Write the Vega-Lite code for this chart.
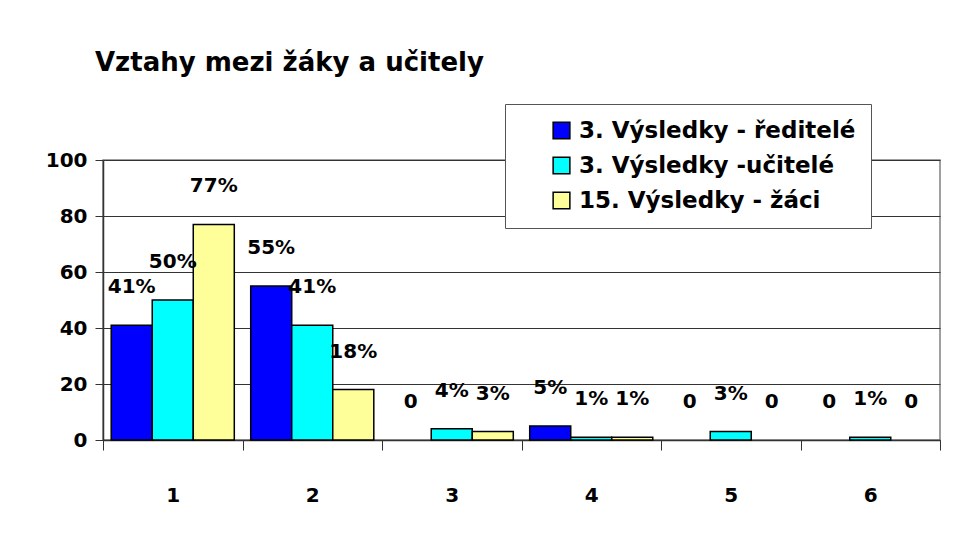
{
  "$schema": "https://vega.github.io/schema/vega-lite/v6.json",
  "width": 837,
  "height": 280,
  "autosize": {"type": "none"},
  "padding": {"left": 103, "top": 160, "right": 27, "bottom": 109},
  "background": "white",
  "title": {
    "text": "Vztahy mezi žáky a učitely",
    "anchor": "start",
    "frame": "group",
    "dx": -8,
    "offset": 15,
    "baseline": "middle",
    "fontSize": 26,
    "font": "DejaVu Sans",
    "fontWeight": "bold",
    "color": "black"
  },
  "config": {
    "font": "DejaVu Sans",
    "view": {"stroke": "#808080", "strokeWidth": 1.5}
  },
  "data": {
    "values": [
      {"k": "1", "s": "3. Výsledky - ředitelé", "v": 41, "lbl": "41%"},
      {"k": "1", "s": "3. Výsledky -učitelé", "v": 50, "lbl": "50%"},
      {"k": "1", "s": "15. Výsledky - žáci", "v": 77, "lbl": "77%"},
      {"k": "2", "s": "3. Výsledky - ředitelé", "v": 55, "lbl": "55%"},
      {"k": "2", "s": "3. Výsledky -učitelé", "v": 41, "lbl": "41%"},
      {"k": "2", "s": "15. Výsledky - žáci", "v": 18, "lbl": "18%"},
      {"k": "3", "s": "3. Výsledky - ředitelé", "v": 0, "lbl": "0"},
      {"k": "3", "s": "3. Výsledky -učitelé", "v": 4, "lbl": "4%"},
      {"k": "3", "s": "15. Výsledky - žáci", "v": 3, "lbl": "3%"},
      {"k": "4", "s": "3. Výsledky - ředitelé", "v": 5, "lbl": "5%"},
      {"k": "4", "s": "3. Výsledky -učitelé", "v": 1, "lbl": "1%"},
      {"k": "4", "s": "15. Výsledky - žáci", "v": 1, "lbl": "1%"},
      {"k": "5", "s": "3. Výsledky - ředitelé", "v": 0, "lbl": "0"},
      {"k": "5", "s": "3. Výsledky -učitelé", "v": 3, "lbl": "3%"},
      {"k": "5", "s": "15. Výsledky - žáci", "v": 0, "lbl": "0"},
      {"k": "6", "s": "3. Výsledky - ředitelé", "v": 0, "lbl": "0"},
      {"k": "6", "s": "3. Výsledky -učitelé", "v": 1, "lbl": "1%"},
      {"k": "6", "s": "15. Výsledky - žáci", "v": 0, "lbl": "0"}
    ]
  },
  "encoding": {
    "x": {
      "field": "k",
      "type": "nominal",
      "scale": {"domain": ["1", "2", "3", "4", "5", "6"], "paddingInner": 0, "paddingOuter": 0},
      "axis": {
        "title": null,
        "labelAngle": 0,
        "labelFontSize": 20,
        "labelFontWeight": "bold",
        "labelColor": "black",
        "labelPadding": 35,
        "tickBand": "extent",
        "tickSize": 10,
        "tickColor": "#333",
        "domainColor": "#333",
        "domainWidth": 1.5,
        "grid": false
      }
    },
    "xOffset": {
      "field": "s",
      "type": "nominal",
      "scale": {
        "domain": ["3. Výsledky - ředitelé", "3. Výsledky -učitelé", "15. Výsledky - žáci"],
        "paddingOuter": 0.2,
        "paddingInner": 0
      }
    },
    "y": {
      "field": "v",
      "type": "quantitative",
      "scale": {"domain": [0, 100], "nice": false},
      "axis": {
        "title": null,
        "values": [0, 20, 40, 60, 80, 100],
        "labelFontSize": 20,
        "labelFontWeight": "bold",
        "labelColor": "black",
        "labelPadding": 8,
        "tickSize": 8,
        "tickColor": "#333",
        "domainColor": "#333",
        "domainWidth": 1.5,
        "gridColor": "#333",
        "gridWidth": 1
      }
    }
  },
  "layer": [
    {
      "transform": [{"filter": "datum.v > 0"}],
      "mark": {"type": "bar", "stroke": "black", "strokeWidth": 1.5},
      "encoding": {
        "color": {
          "field": "s",
          "type": "nominal",
          "scale": {
            "domain": ["3. Výsledky - ředitelé", "3. Výsledky -učitelé", "15. Výsledky - žáci"],
            "range": ["#0000FF", "#00FFFF", "#FFFF99"]
          },
          "legend": {
            "title": null,
            "orient": "none",
            "legendX": 402,
            "legendY": -56,
            "symbolType": "square",
            "symbolSize": 280,
            "symbolOffset": 30,
            "symbolStrokeColor": "black",
            "symbolStrokeWidth": 1.5,
            "labelFontSize": 23,
            "labelFontWeight": "bold",
            "labelColor": "black",
            "labelLimit": 400,
            "labelOffset": 6,
            "rowPadding": 11,
            "fillColor": "white",
            "strokeColor": "#555",
            "padding": 15,
            "offset": 0
          }
        }
      }
    },
    {
      "mark": {"type": "text", "dy": -38, "fontSize": 20, "fontWeight": "bold", "color": "black", "baseline": "middle"},
      "encoding": {"text": {"field": "lbl"}}
    }
  ]
}
